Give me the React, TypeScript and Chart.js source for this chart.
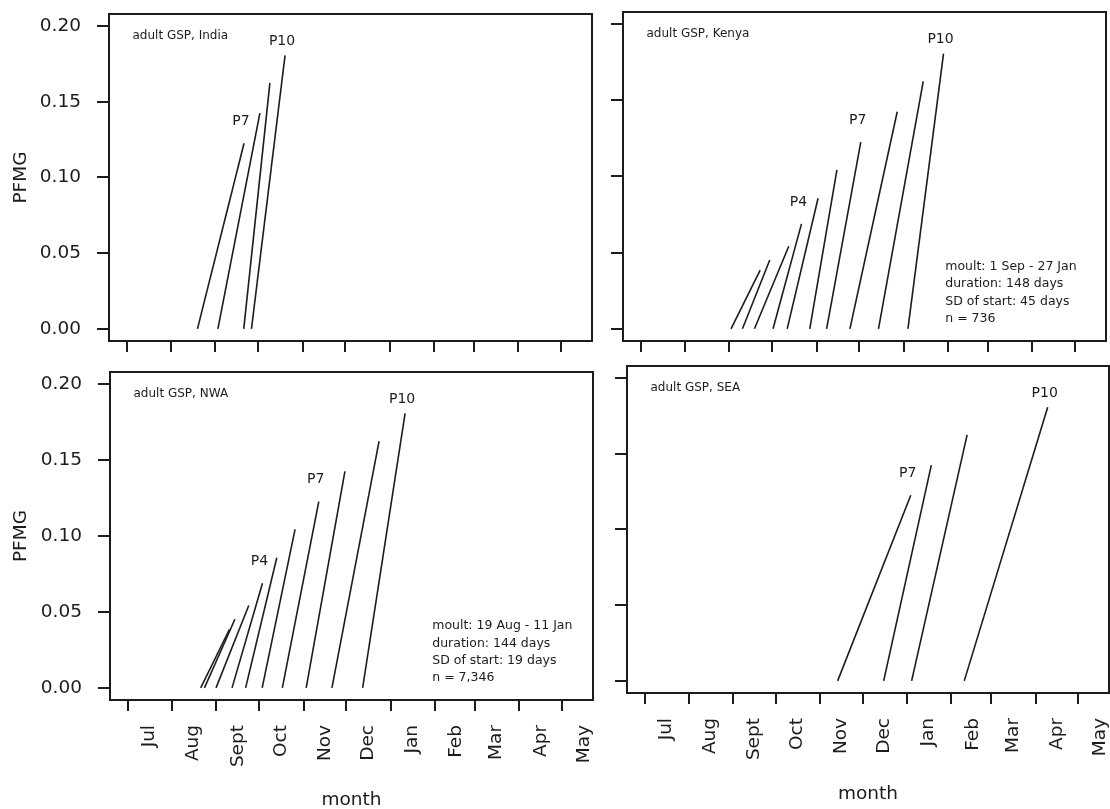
import React, { useEffect, useRef } from 'react';
import { Chart, registerables } from 'chart.js';

Chart.register(...registerables);

// Primary feathers and the proportion of total feather mass grown (PFMG) in each
const primaries = ['P1', 'P2', 'P3', 'P4', 'P5', 'P6', 'P7', 'P8', 'P9', 'P10'];
const pfmg = [0.0386, 0.0452, 0.0542, 0.0689, 0.0857, 0.1044, 0.1226, 0.1425, 0.1625, 0.1807];

// Time axis in days after 1 July
const monthStarts = [0, 31, 62, 92, 123, 153, 184, 215, 243, 274, 304];
const monthMids = [15, 46, 77, 107, 138, 168, 199, 230, 258, 289, 319];
const monthLabels = ['Jul', 'Aug', 'Sept', 'Oct', 'Nov', 'Dec', 'Jan', 'Feb', 'Mar', 'Apr', 'May'];
const yTicks = [0, 0.05, 0.1, 0.15, 0.2];

// Growth start / end (days after 1 July) of each primary, per population
const indiaStart = [null, null, null, null, null, null, 49.4, 63.7, 81.8, 87.2];
const indiaEnd = [null, null, null, null, null, null, 82.0, 93.1, 100.1, 110.7];

const kenyaStart = [63.1, 71.1, 79.5, 92.5, 102.4, 118.2, 130.0, 146.3, 166.3, 186.9];
const kenyaEnd = [83.5, 90.2, 103.5, 112.4, 124.0, 137.2, 153.9, 179.4, 197.6, 211.8];

const nwaStart = [51.0, 53.6, 61.7, 72.9, 82.4, 94.0, 108.1, 124.8, 142.8, 164.3];
const nwaEnd = [71.1, 74.9, 84.6, 94.2, 104.2, 117.0, 133.6, 151.9, 175.8, 194.0];

const seaStart = [null, null, null, null, null, null, 135.2, 167.5, 187.1, 224.0];
const seaEnd = [null, null, null, null, null, null, 186.5, 200.9, 226.0, 282.5];

const kenyaStats = ['moult: 1 Sep - 27 Jan', 'duration: 148 days', 'SD of start: 45 days', 'n = 736'];
const nwaStats = ['moult: 19 Aug - 11 Jan', 'duration: 144 days', 'SD of start: 19 days', 'n = 7,346'];
const statsDay = 213;

const X_MIN = -12.5;
const X_MAX = 325.5;
const Y_MIN = -0.008;
const Y_MAX = 0.208;

const INK = '#1c1c1c';
const FONT = 'DejaVu Sans';

type PanelSpec = {
  title: string;
  start: (number | null)[];
  end: (number | null)[];
  labelled: number[];
  stats: string[] | null;
  left: number;
  top: number;
  w: number;
  h: number;
  padT: number;
  padR: number;
  yW: number;
  xTickH: number;
  x2H: number;
  showY: boolean;
  showX: boolean;
  titlePadBottom: number;
};

const panels: PanelSpec[] = [
  {
    title: 'adult GSP, India', start: indiaStart, end: indiaEnd, labelled: [6, 9], stats: null,
    left: 0, top: 0, w: 600, h: 360, padT: 14, padR: 8, yW: 109, xTickH: 19, x2H: 0,
    showY: true, showX: false, titlePadBottom: 0,
  },
  {
    title: 'adult GSP, Kenya', start: kenyaStart, end: kenyaEnd, labelled: [3, 6, 9], stats: kenyaStats,
    left: 600, top: 0, w: 510, h: 360, padT: 12, padR: 4, yW: 23, xTickH: 19, x2H: 0,
    showY: false, showX: false, titlePadBottom: 0,
  },
  {
    title: 'adult GSP, NWA', start: nwaStart, end: nwaEnd, labelled: [3, 6, 9], stats: nwaStats,
    left: 0, top: 360, w: 600, h: 449, padT: 12, padR: 7, yW: 110, xTickH: 11, x2H: 98,
    showY: true, showX: true, titlePadBottom: 0,
  },
  {
    title: 'adult GSP, SEA', start: seaStart, end: seaEnd, labelled: [6, 9], stats: null,
    left: 600, top: 360, w: 510, h: 449, padT: 6, padR: 1, yW: 27, xTickH: 11, x2H: 105,
    showY: false, showX: true, titlePadBottom: 6,
  },
];

function decorPlugin(spec: PanelSpec) {
  return {
    id: 'panelDecor',
    afterDatasetsDraw(chart: any) {
      const { ctx, chartArea: a, scales } = chart;
      ctx.save();
      // frame
      ctx.strokeStyle = INK;
      ctx.lineWidth = 2;
      ctx.strokeRect(a.left, a.top, a.right - a.left, a.bottom - a.top);

      ctx.fillStyle = INK;
      ctx.textBaseline = 'middle';

      // panel title
      ctx.font = `12px "${FONT}"`;
      ctx.textAlign = 'left';
      ctx.fillText(spec.title, a.left + 23.5, a.top + 22);

      // primary labels above the end of selected lines
      ctx.font = `14px "${FONT}"`;
      ctx.textAlign = 'center';
      spec.labelled.forEach((i) => {
        const e = spec.end[i];
        if (e == null) return;
        const px = scales.x.getPixelForValue(e);
        const py = scales.y.getPixelForValue(pfmg[i]);
        const lift = i === 9 ? 14 : 22;
        ctx.fillText(primaries[i], px - 3, py - lift);
      });

      // moult summary
      if (spec.stats) {
        ctx.font = `12.5px "${FONT}"`;
        ctx.textAlign = 'left';
        const sx = scales.x.getPixelForValue(statsDay);
        const base = scales.y.getPixelForValue(0) - 10;
        const n = spec.stats.length;
        spec.stats.forEach((line, k) => {
          ctx.fillText(line, sx, base - (n - 1 - k) * 17.3);
        });
      }
      ctx.restore();
    },
  };
}

function buildConfig(spec: PanelSpec): any {
  const datasets = primaries
    .map((name, i) => {
      const s = spec.start[i];
      const e = spec.end[i];
      return {
        label: name,
        data: s == null || e == null ? [] : [{ x: s, y: 0 }, { x: e, y: pfmg[i] }],
        showLine: true,
        borderColor: INK,
        borderWidth: 1.6,
        pointRadius: 0,
        fill: false,
        tension: 0,
      };
    })
    .filter((d) => d.data.length > 0);

  const scales: any = {
    x: {
      type: 'linear',
      position: 'bottom',
      weight: 0,
      min: X_MIN,
      max: X_MAX,
      afterBuildTicks: (s: any) => {
        s.ticks = monthStarts.map((v) => ({ value: v }));
      },
      ticks: { display: false },
      grid: {
        display: true,
        drawOnChartArea: false,
        drawTicks: true,
        tickLength: 11,
        tickWidth: 2,
        lineWidth: 2,
        tickColor: INK,
        color: INK,
      },
      border: { display: false },
      afterFit: (s: any) => {
        s.height = spec.xTickH;
        s.paddingLeft = 0;
        s.paddingRight = 0;
      },
    },
    y: {
      type: 'linear',
      position: 'left',
      min: Y_MIN,
      max: Y_MAX,
      afterBuildTicks: (s: any) => {
        s.ticks = yTicks.map((v) => ({ value: v }));
      },
      ticks: {
        display: spec.showY,
        padding: 16,
        color: INK,
        font: { family: FONT, size: 18.5 },
        callback: (v: any) => Number(v).toFixed(2),
      },
      grid: {
        display: true,
        drawOnChartArea: false,
        drawTicks: true,
        tickLength: 12,
        tickWidth: 2,
        lineWidth: 2,
        tickColor: INK,
        color: INK,
      },
      border: { display: false },
      title: {
        display: spec.showY,
        text: 'PFMG',
        color: INK,
        font: { family: FONT, size: 18.5, lineHeight: 1 },
        padding: { top: 12, bottom: 0 },
      },
      afterFit: (s: any) => {
        s.width = spec.yW;
        s.paddingTop = 0;
        s.paddingBottom = 0;
      },
    },
  };

  if (spec.showX) {
    scales.x2 = {
      type: 'linear',
      position: 'bottom',
      weight: 1,
      min: X_MIN,
      max: X_MAX,
      afterBuildTicks: (s: any) => {
        s.ticks = monthMids.map((v) => ({ value: v }));
      },
      ticks: {
        display: true,
        autoSkip: false,
        minRotation: 90,
        maxRotation: 90,
        padding: 14,
        color: INK,
        font: { family: FONT, size: 18.5 },
        callback: (_v: any, i: number) => monthLabels[i],
      },
      grid: { display: false, drawTicks: false },
      border: { display: false },
      title: {
        display: true,
        text: 'month',
        color: INK,
        font: { family: FONT, size: 18.5, lineHeight: 1 },
        padding: { top: 0, bottom: spec.titlePadBottom },
      },
      afterFit: (s: any) => {
        s.height = spec.x2H;
        s.paddingLeft = 0;
        s.paddingRight = 0;
      },
    };
  }

  return {
    type: 'scatter',
    data: { datasets },
    options: {
      animation: false,
      responsive: false,
      maintainAspectRatio: false,
      devicePixelRatio: 1,
      events: [],
      layout: { padding: { left: 0, right: spec.padR, top: spec.padT, bottom: 0 } },
      plugins: {
        legend: { display: false },
        tooltip: { enabled: false },
      },
      scales,
    },
    plugins: [decorPlugin(spec)],
  };
}

function Panel({ spec }: { spec: PanelSpec }) {
  const ref = useRef<HTMLCanvasElement | null>(null);
  useEffect(() => {
    if (!ref.current) return;
    const chart = new Chart(ref.current, buildConfig(spec));
    return () => chart.destroy();
  }, [spec]);
  return (
    <canvas
      ref={ref}
      width={spec.w}
      height={spec.h}
      style={{ position: 'absolute', left: spec.left, top: spec.top, width: spec.w, height: spec.h }}
    />
  );
}

export default function App() {
  return (
    <div
      style={{
        position: 'absolute',
        left: 0,
        top: 0,
        width: 1110,
        height: 809,
        background: '#ffffff',
        overflow: 'hidden',
      }}
    >
      {panels.map((p) => (
        <Panel key={p.title} spec={p} />
      ))}
    </div>
  );
}
